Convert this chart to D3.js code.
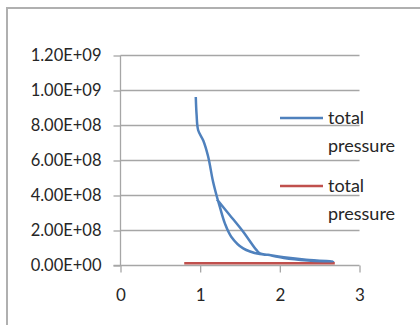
<!DOCTYPE html>
<html><head><meta charset="utf-8">
<script src="https://cdn.jsdelivr.net/npm/d3@7"></script>
<style>body{margin:0;background:#fff}svg{display:block}text{font-family:Lato,"Open Sans",sans-serif}</style>
</head><body><svg id="c" width="420" height="325"></svg>
<script>
const xTicks = [0, 1, 2, 3];
const yTicks = [0, 2e8, 4e8, 6e8, 8e8, 1e9, 1.2e9];
const yTickLabels = ["0.00E+00","2.00E+08","4.00E+08","6.00E+08","8.00E+08","1.00E+09","1.20E+09"];
const seriesNames = ["total pressure", "total pressure"];
// series 1 (blue)
const blueX = [0.945, 0.955, 0.975, 1.04, 1.10, 1.16, 1.21, 1.245, 1.31, 1.39, 1.54, 1.75, 1.85, 2.05, 2.33, 2.67, 2.35, 2.05, 1.85, 1.75, 1.705, 1.54, 1.37, 1.21];
const blueY = [9.6e8, 8.6e8, 7.7e8, 7.1e8, 6.2e8, 4.8e8, 3.9e8, 3.35e8, 2.38e8, 1.62e8, 0.95e8, 0.62e8, 0.58e8, 0.44e8, 0.3e8, 0.2e8, 0.26e8, 0.4e8, 0.58e8, 0.67e8, 0.86e8, 1.9e8, 2.86e8, 3.75e8];
// series 2 (red)
const redX = [0.8, 2.69];
const redY = [1e7, 1e7];

const svg = d3.select("#c");
svg.append("rect").attr("x",7).attr("y",8).attr("width",420).attr("height",330)
  .attr("fill","none").attr("stroke","#b0b0b0").attr("stroke-width",2);

const x = d3.scaleLinear().domain([0,3]).range([120.5,359.5]);
const y = d3.scaleLinear().domain([0,1.2e9]).range([265,55]);

// gridlines
svg.append("g").selectAll("line").data(yTicks.slice(1)).join("line")
  .attr("x1",x(0)).attr("x2",x(3)).attr("y1",d=>Math.round(y(d))+0.5).attr("y2",d=>Math.round(y(d))+0.5)
  .attr("stroke","#a6a6a6").attr("stroke-width",1.3);

// y axis
const ya = svg.append("g").attr("transform",`translate(${x(0)},0.5)`)
  .call(d3.axisLeft(y).tickValues(yTicks).tickSize(7).tickPadding(12).tickFormat((d,i)=>yTickLabels[i]));
ya.select(".domain").attr("stroke","#a6a6a6").attr("stroke-width",1.3).attr("d",`M0,${y(1.2e9)}V${y(0)}`);
ya.selectAll(".tick line").attr("stroke","#a6a6a6").attr("stroke-width",1.3);
ya.selectAll("text").attr("font-size",16.5).attr("fill","#262626");

// x axis
const xa = svg.append("g").attr("transform",`translate(0,${y(0)+0.5})`)
  .call(d3.axisBottom(x).tickValues(xTicks).tickSize(7).tickPadding(16).tickFormat(d3.format("d")));
xa.select(".domain").attr("stroke","#a6a6a6").attr("stroke-width",1.3).attr("d",`M${x(0)-7},0H${x(3)}`);
xa.selectAll(".tick line").attr("stroke","#a6a6a6").attr("stroke-width",1.3);
xa.selectAll("text").attr("font-size",17).attr("fill","#262626");

const line = d3.line().x(d=>x(d[0])).y(d=>y(d[1])).curve(d3.curveCatmullRom.alpha(0.5));
svg.append("path").datum(redX.map((v,i)=>[v,redY[i]])).attr("d",line)
  .attr("fill","none").attr("stroke","#c0504d").attr("stroke-width",2.5);
svg.append("path").datum(blueX.map((v,i)=>[v,blueY[i]])).attr("d",line)
  .attr("fill","none").attr("stroke","#4f81bd").attr("stroke-width",2.5).attr("stroke-linejoin","round");

// legend
const leg = [{c:"#4f81bd",y:118},{c:"#c0504d",y:186}];
leg.forEach((l,i)=>{
  svg.append("line").attr("x1",280).attr("x2",323).attr("y1",l.y).attr("y2",l.y).attr("stroke",l.c).attr("stroke-width",2.5);
  const t = svg.append("text").attr("x",328).attr("y",l.y+6).attr("font-size",18).attr("fill","#262626");
  const w = seriesNames[i].split(" ");
  t.append("tspan").attr("x",328).text(w[0]);
  t.append("tspan").attr("x",328).attr("dy",28).text(w[1]);
});
</script></body></html>
